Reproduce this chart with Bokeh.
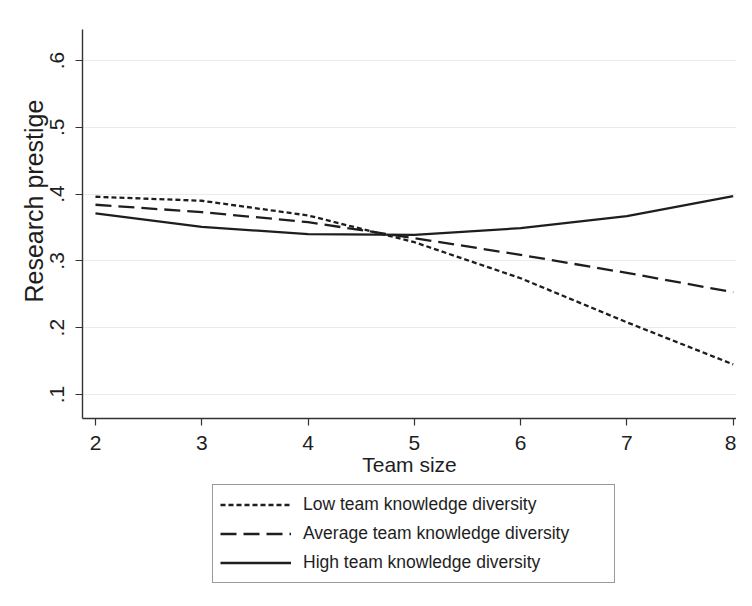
from bokeh.plotting import figure
from bokeh.layouts import column
from bokeh.models import Legend, LegendItem, FixedTicker, Range1d, Title
from bokeh.embed import file_html
from bokeh.resources import INLINE

# ---- data ----
team_size = [2, 3, 4, 5, 6, 7, 8]
low_div = [0.396, 0.390, 0.368, 0.328, 0.274, 0.208, 0.145]
avg_div = [0.384, 0.373, 0.358, 0.334, 0.309, 0.282, 0.253]
high_div = [0.371, 0.351, 0.340, 0.339, 0.349, 0.367, 0.397]

x_ticks = [2, 3, 4, 5, 6, 7, 8]
y_ticks = [0.1, 0.2, 0.3, 0.4, 0.5, 0.6]
y_tick_labels = [".1", ".2", ".3", ".4", ".5", ".6"]

series_names = ["Low team knowledge diversity",
                "Average team knowledge diversity",
                "High team knowledge diversity"]
series_values = [low_div, avg_div, high_div]
series_dash = ["5 3", "16 7", "solid"]

FONT = "Liberation Sans"
INK = "#1e1e1e"

p = figure(width=736, height=482, output_backend="svg", toolbar_location=None,
           x_range=Range1d(1.878, 8.031), y_range=Range1d(0.064, 0.6464),
           min_border_left=82, min_border_right=0, min_border_top=29,
           min_border_bottom=64)
p.outline_line_color = None
p.background_fill_color = "white"
p.border_fill_color = "white"

for ys, dash in zip(series_values, series_dash):
    p.line(team_size, ys, line_color=INK, line_width=2.3, line_dash=dash)

# axes
p.xaxis.ticker = FixedTicker(ticks=x_ticks)
p.yaxis.ticker = FixedTicker(ticks=y_ticks)
p.yaxis.major_label_overrides = {t: l for t, l in zip(y_ticks, y_tick_labels)}
p.yaxis.major_label_orientation = "vertical"
for ax in (p.xaxis, p.yaxis):
    ax.axis_line_color = "#333333"
    ax.axis_line_width = 1.4
    ax.major_tick_line_color = "#333333"
    ax.major_tick_line_width = 1.2
    ax.major_tick_out = 7
    ax.major_tick_in = 0
    ax.minor_tick_line_color = None
    ax.major_label_text_font = FONT
    ax.major_label_text_font_size = "21px"
    ax.major_label_text_color = INK
    ax.axis_label_text_font = FONT
    ax.axis_label_text_font_style = "normal"
    ax.axis_label_text_color = INK
p.xaxis.axis_label = "Team size"
p.xaxis.axis_label_text_font_size = "21px"
p.xaxis.major_label_standoff = 10
p.xaxis.axis_label_standoff = 0
p.yaxis.major_label_standoff = 11

# y-axis title (placed a little above centre, like the original)
ytitle = Title(text="Research prestige", align="left", offset=116,
               standoff=0, text_font=FONT, text_font_size="25px",
               text_font_style="normal", text_color=INK)
p.add_layout(ytitle, "left")

p.xgrid.grid_line_color = None
p.ygrid.grid_line_color = "#ebebeb"
p.ygrid.grid_line_width = 1.2

# ---- legend strip below the plot (frames are aligned by the column) ----
lg = figure(width=736, height=108, output_backend="svg", toolbar_location=None,
            x_range=Range1d(100, 101), y_range=Range1d(100, 101),
            x_axis_location=None, y_axis_location=None,
            min_border_left=0, min_border_right=0, min_border_top=0,
            min_border_bottom=0)
lg.outline_line_color = None
lg.xgrid.grid_line_color = None
lg.ygrid.grid_line_color = None
lg.background_fill_color = "white"
lg.border_fill_color = "white"

items = []
for name, ys, dash in zip(series_names, series_values, series_dash):
    r = lg.line(team_size, ys, line_color=INK, line_width=2.3, line_dash=dash)
    items.append(LegendItem(label=name, renderers=[r]))

legend = Legend(items=items, location=(130, 7))
legend.margin = 0
legend.padding = 7
legend.spacing = 4
legend.label_height = 25
legend.glyph_height = 25
legend.glyph_width = 71
legend.label_standoff = 12
legend.label_width = 304
legend.label_text_font = FONT
legend.label_text_font_size = "17.5px"
legend.label_text_color = INK
legend.border_line_color = "#333333"
legend.border_line_width = 1.5
legend.background_fill_color = "white"
legend.background_fill_alpha = 1
lg.add_layout(legend)

layout = column(p, lg, spacing=0)
open("out.html", "w").write(file_html(layout, INLINE))
